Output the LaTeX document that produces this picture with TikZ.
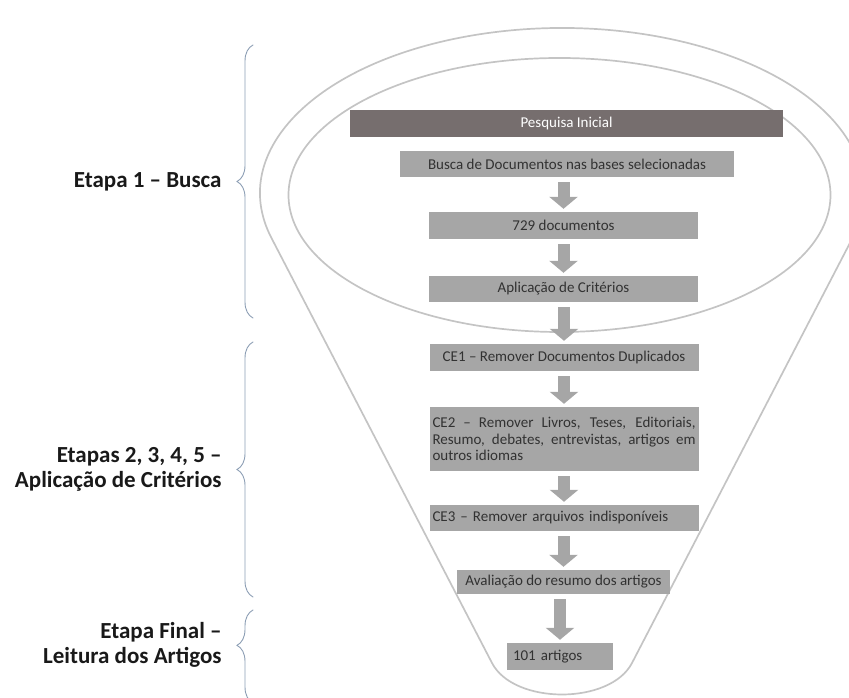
\documentclass[tikz,border=0pt]{standalone}
\usepackage{fontspec}
\setmainfont{Carlito}
\usepackage{tikz}
\usetikzlibrary{arrows.meta, decorations.pathreplacing}
\hyphenpenalty=10000
\exhyphenpenalty=10000

\begin{document}
\begin{tikzpicture}
		[x=1pt,y=1pt,line cap=round,
		%Styles
		funnel line/.style={draw=funnelgray,line width=1.7pt},
		stage box/.style={rectangle,fill=boxgray,text=textgray,minimum height=26pt,inner sep=3pt,font=\fontsize{15}{16.5}\selectfont},
		head box/.style={stage box,fill=headgray,text=white},
		flow arrow/.style={draw=boxgray,line width=12pt,line cap=butt,-{Triangle[width=28pt,length=12pt]},shorten <=5pt,shorten >=3pt},
		stage brace/.style={draw=bracecolor,line width=0.9pt,decorate,decoration={brace,amplitude=16pt,aspect=#1}},
		stage brace/.default=0.5,
		stage text/.style={inner sep=0pt,align=right,text=black!90,font=\fontsize{23}{25}\selectfont\bfseries}
		]
		
		%Colors
		\definecolor{funnelgray}{RGB}{196,196,196}
		\definecolor{boxgray}{RGB}{166,166,166}
		\definecolor{headgray}{RGB}{118,110,110}
		\definecolor{textgray}{RGB}{50,50,50}
		\definecolor{bracecolor}{RGB}{140,158,180}
		
		\useasboundingbox (0,0) rectangle (849,698);
		
		%The funnel
		\draw[funnel line] (271.27,460.35) arc[start angle=195.7,end angle=-15.7,x radius=302pt,y radius=165pt]
			-- (632,35) .. controls (610.2,-7) and (513.8,-7) .. (492,35) -- cycle;
		\draw[funnel line] (559.5,503) ellipse[x radius=271pt,y radius=137pt];
		
		%The steps
		\node[head box,minimum width=433pt,minimum height=27pt] (pesquisa) at (566.5,574.5) {Pesquisa Inicial};
		\node[stage box,minimum width=334pt] (busca) at (567,534) {Busca de Documentos nas bases selecionadas};
		\node[stage box,minimum width=269pt,minimum height=27pt] (docs) at (563.5,472.5) {729 documentos};
		\node[stage box,minimum width=269pt] (aplic) at (563.5,409) {Aplicação de Critérios};
		\node[stage box,minimum width=269pt,minimum height=27pt] (ce1) at (564,340.5) {CE1 – Remover Documentos Duplicados};
		\node[stage box,minimum height=64pt,text width=263pt,align=justify] (ce2) at (564,259) {CE2 – Remover Livros, Teses, Editoriais, Resumo, debates, entrevistas, artigos em outros idiomas};
		\node[stage box,text width=263pt,align=left] (ce3) at (564,180) {CE3 – Remover arquivos indisponíveis};
		\node[stage box,minimum width=213pt,minimum height=24pt] (aval) at (563.5,116) {Avaliação do resumo dos artigos};
		\node[stage box,minimum height=27pt,text width=94pt,inner xsep=6pt,align=left] (artigos) at (560,41.5) {101 artigos};
		
		\foreach \a/\b in {busca/docs,docs/aplic,aplic/ce1,ce1/ce2,ce2/ce3,ce3/aval,aval/artigos}
			\draw[flow arrow] (\a.south -| \b.north) -- (\b.north);
		
		%The stages
		\draw[stage brace] (253,380) -- node[stage text,left=31pt] (busca stage) {Etapa 1 – Busca} (253,653);
		\draw[stage brace] (253,101) -- node[stage text,left=31pt] (criterios stage) {Etapas 2, 3, 4, 5 –\\Aplicação de Critérios} (253,356);
		\draw[stage brace=0.62] (253,-5) -- node[pos=0.62,stage text,left=31pt] (leitura stage) {Etapa Final –\\Leitura dos Artigos} (253,88);
	\end{tikzpicture}
\end{document}
